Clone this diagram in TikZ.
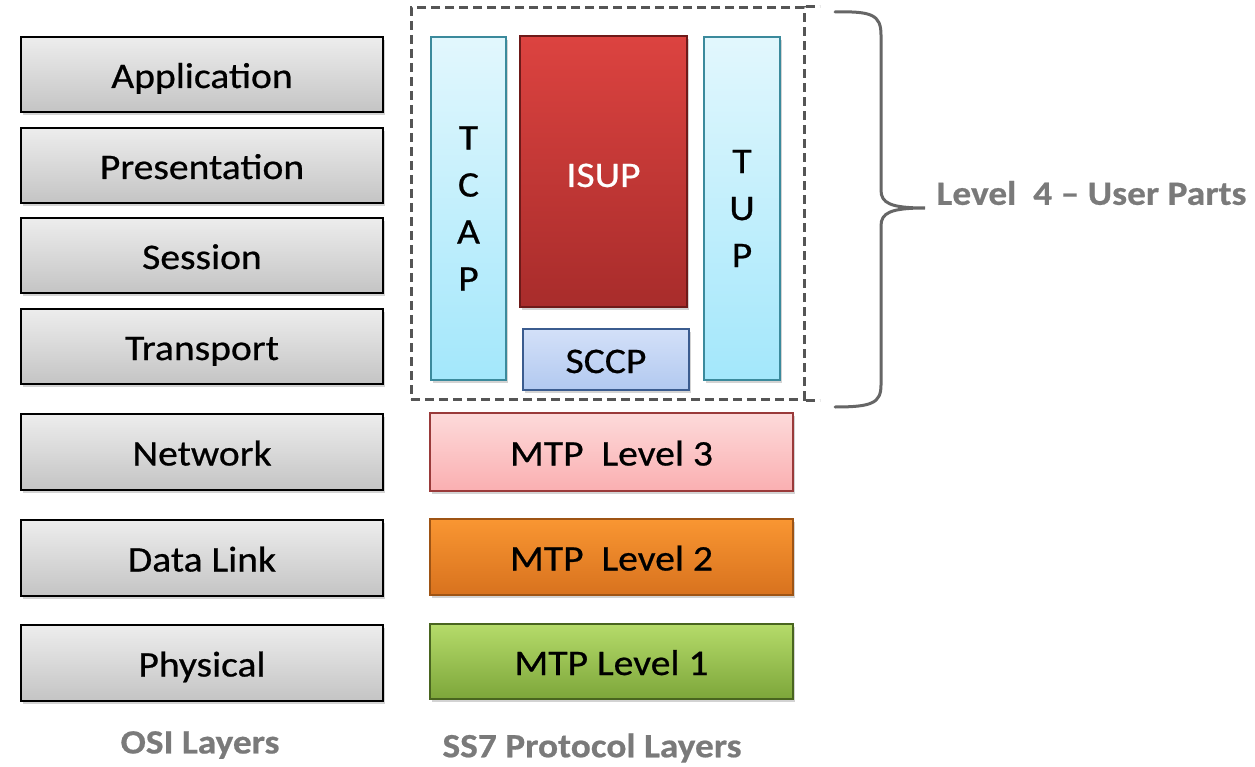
\documentclass[tikz,border=0pt]{standalone}
\usepackage{fontspec}
\setmainfont{Carlito}[FakeStretch=1.1,FakeBold=0.6]
\usetikzlibrary{shadows}
\definecolor{ositop}{HTML}{EDEDED}
\definecolor{osibot}{HTML}{C4C4C4}
\definecolor{cyantop}{HTML}{E2F7FD}
\definecolor{cyanbot}{HTML}{A3E7FB}
\definecolor{cyanbd}{HTML}{3B8A9C}
\definecolor{redtop}{HTML}{DC4340}
\definecolor{redbot}{HTML}{A82C2B}
\definecolor{redbd}{HTML}{6E1A19}
\definecolor{bluetop}{HTML}{D3E0F8}
\definecolor{bluebot}{HTML}{B2C9F0}
\definecolor{bluebd}{HTML}{3B5C8F}
\definecolor{pinktop}{HTML}{FDDADA}
\definecolor{pinkbot}{HTML}{FAAFB1}
\definecolor{pinkbd}{HTML}{9A3A3A}
\definecolor{orgtop}{HTML}{F99632}
\definecolor{orgbot}{HTML}{D8721E}
\definecolor{orgbd}{HTML}{9E5414}
\definecolor{grntop}{HTML}{B5DB6A}
\definecolor{grnbot}{HTML}{7DA63A}
\definecolor{grnbd}{HTML}{49651F}
\definecolor{lblgray}{HTML}{7A7A7A}
\definecolor{dashgray}{HTML}{555555}
\begin{document}
\begin{tikzpicture}[x=1pt,y=-1pt,
  box/.style={rectangle, line width=1.6pt, inner sep=0pt,
    font=\fontsize{36}{46}\selectfont, text=black,
    drop shadow={opacity=0.35, shadow xshift=1.5pt, shadow yshift=-3pt}},
  oneline/.style={box, text height=27pt, text depth=0pt},
  osi/.style={oneline, draw=black, top color=ositop, bottom color=osibot,
    minimum width=362pt, minimum height=75pt},
  cyanbox/.style={box, draw=cyanbd, top color=cyantop, bottom color=cyanbot, align=center,
    font=\fontsize{36}{47}\selectfont},
  redbox/.style={oneline, draw=redbd, top color=redtop, bottom color=redbot, text=white,
    text height=31pt},
  bluebox/.style={oneline, draw=bluebd, top color=bluetop, bottom color=bluebot},
  mtp/.style={oneline, minimum width=363pt},
  frameline/.style={draw=dashgray, line width=3pt, dash pattern=on 9pt off 5pt},
  lbl/.style={font=\fontsize{34}{40}\selectfont\bfseries, text=lblgray}
]
\useasboundingbox (0,0) rectangle (1255,767);
% OSI layers
\node[osi] (app) at (202,74.5) {Application};
\node[osi] (pres) at (202,165.5) {Presentation};
\node[osi] (sess) at (202,255.5) {Session};
\node[osi] (trans) at (202,346.5) {Transport};
\node[osi, minimum height=76pt] (net) at (202,452) {Network};
\node[osi, minimum height=76pt] (dl) at (202,558) {Data Link};
\node[osi, minimum height=76pt] (phy) at (202,663) {Physical};
% dashed user-parts frame
\node[frameline, rectangle, minimum width=393pt, minimum height=391pt, inner sep=0pt] (frame) at (607.5,203.5) {};
\draw[frameline] (frame.north east) -- ++(14,0);
\draw[frameline] (frame.south east) -- ++(14,0);
% SS7 user parts
\node[cyanbox, minimum width=75pt, minimum height=343pt] (tcap) at (468.5,208.5) {T\\C\\A\\P};
\node[redbox, minimum width=167pt, minimum height=271pt] (isup) at (603.5,171.5) {ISUP};
\node[cyanbox, minimum width=76pt, minimum height=343pt] (tup) at (742,208.5) {T\\U\\P};
\node[bluebox, minimum width=166pt, minimum height=61pt] (sccp) at (606,359.5) {SCCP};
% MTP
\node[mtp, draw=pinkbd, top color=pinktop, bottom color=pinkbot, minimum height=78pt] (mtp3) at (611.5,452) {MTP\ \ Level 3};
\node[mtp, draw=orgbd, top color=orgtop, bottom color=orgbot, minimum height=76pt] (mtp2) at (611.5,557) {MTP\ \ Level 2};
\node[mtp, draw=grnbd, top color=grntop, bottom color=grnbot, minimum height=75pt] (mtp1) at (611.5,661.5) {MTP Level 1};
% brace
\coordinate (btop) at (835,12);
\coordinate (btip) at (925,208);
\coordinate (bbot) at (835,407);
\draw[dashgray!90, line width=3pt, line cap=round]
  (btop) .. controls (872,11) and (881,15) .. (881,35) -- (881,190)
  .. controls (881,203) and (890,208) .. (btip)
  .. controls (890,208) and (881,213) .. (881,226) -- (881,385)
  .. controls (881,403) and (872,407) .. (bbot);
\node[lbl, anchor=west] (l4) at (933,193) {Level\ \ 4 – User Parts};
% captions
\node[lbl] (osil) at (200,745) {OSI Layers};
\node[lbl] (ss7l) at (592,748) {SS7 Protocol Layers};
\end{tikzpicture}
\end{document}
